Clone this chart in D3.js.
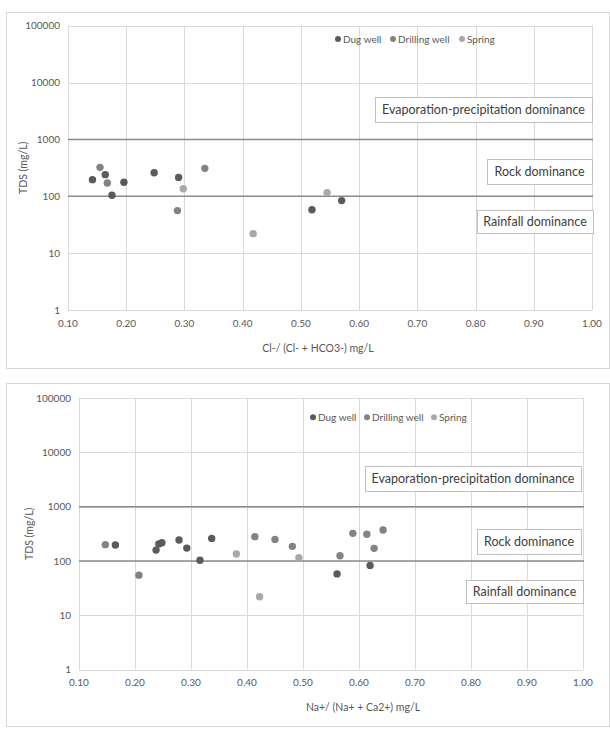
<!DOCTYPE html>
<html>
<head>
<meta charset="utf-8">
<script src="https://cdn.jsdelivr.net/npm/d3@7"></script>
<style>
  body { margin: 0; background: #fff; }
  svg text { font-family: Lato, "Open Sans", sans-serif; fill: #595959; }
</style>
</head>
<body>
<div id="chart"></div>
<script>
// Tick values
const xTicks = [0.1, 0.2, 0.3, 0.4, 0.5, 0.6, 0.7, 0.8, 0.9, 1.0];
const yTicks = [1, 10, 100, 1000, 10000, 100000];
const seriesNames = ["Dug well", "Drilling well", "Spring"];
const zoneNames = ["Evaporation-precipitation dominance", "Rock dominance", "Rainfall dominance"];
const zoneLines = [1000, 100];

// Chart 1: Cl-/(Cl- + HCO3-) vs TDS
const clDug = [[0.142, 196], [0.164, 240], [0.1755, 104], [0.196, 176], [0.248, 260], [0.290, 215], [0.519, 58], [0.570, 84]];
const clDrill = [[0.155, 323], [0.1675, 171], [0.288, 56], [0.335, 310]];
const clSpring = [[0.298, 136], [0.418, 22], [0.545, 116]];

// Chart 2: Na+/(Na+ + Ca2+) vs TDS
const naDug = [[0.165, 197], [0.2376, 159], [0.2425, 206], [0.248, 217], [0.2786, 244], [0.2925, 173], [0.316, 103], [0.337, 261], [0.5608, 58], [0.6198, 83]];
const naDrill = [[0.147, 200], [0.207, 55], [0.414, 281], [0.450, 250], [0.481, 186], [0.566, 125], [0.589, 323], [0.614, 310], [0.627, 171], [0.643, 372]];
const naSpring = [[0.381, 135], [0.4225, 22], [0.4926, 115]];

const colors = ["#5b5b5b", "#838383", "#a9a9a9"];

const svg = d3.select("#chart").append("svg")
    .attr("width", 610)
    .attr("height", 731);

function drawChart(opt) {
    // outer frame
    svg.append("rect")
        .attr("x", opt.frame[0] + 0.5).attr("y", opt.frame[1] + 0.5)
        .attr("width", opt.frame[2]).attr("height", opt.frame[3])
        .attr("fill", "#fff").attr("stroke", "#d9d9d9");

    const x = d3.scaleLinear().domain([0.1, 1.0]).range([opt.left, opt.right]);
    const y = d3.scaleLog().domain([1, 100000]).range([opt.bottom, opt.top]);

    const g = svg.append("g");

    // gridlines
    g.selectAll(".vg").data(xTicks).join("line")
        .attr("x1", d => Math.round(x(d)) + 0.5).attr("x2", d => Math.round(x(d)) + 0.5)
        .attr("y1", opt.top).attr("y2", opt.bottom)
        .attr("stroke", "#d9d9d9").attr("stroke-width", 1);
    g.selectAll(".hg").data(yTicks).join("line")
        .attr("x1", opt.left).attr("x2", opt.right)
        .attr("y1", d => Math.round(y(d)) + 0.5).attr("y2", d => Math.round(y(d)) + 0.5)
        .attr("stroke", "#d9d9d9").attr("stroke-width", 1);

    // tick labels
    g.selectAll(".xl").data(xTicks).join("text")
        .attr("x", d => x(d)).attr("y", opt.bottom + 13)
        .attr("dy", "0.35em")
        .attr("text-anchor", "middle")
        .style("font-size", "10px")
        .text(d => d3.format(".2f")(d));
    g.selectAll(".yl").data(yTicks).join("text")
        .attr("x", opt.left - 8).attr("y", d => y(d))
        .attr("dy", "0.35em")
        .attr("text-anchor", "end")
        .style("font-size", "10px")
        .text(d => d);

    // zone boundary lines
    g.selectAll(".zl").data(zoneLines).join("line")
        .attr("x1", opt.left).attr("x2", opt.right + 1)
        .attr("y1", d => y(d)).attr("y2", d => y(d))
        .attr("stroke", "#8c8c8c").attr("stroke-width", 1.5);

    // zone boxes
    zoneNames.forEach(function(name, i) {
        const b = opt.boxes[i];
        svg.append("rect")
            .attr("x", b[0] + 0.5).attr("y", b[1] + 0.5)
            .attr("width", b[2]).attr("height", b[3])
            .attr("fill", "#fff").attr("stroke", "#c0c0c0");
        svg.append("text")
            .attr("x", b[0] + b[2] / 2).attr("y", b[1] + b[3] / 2 + 0.5)
            .attr("dy", "0.35em")
            .attr("text-anchor", "middle")
            .style("font-size", "12.5px")
            .style("fill", "#404040")
            .text(name);
    });

    // points
    opt.series.forEach(function(data, i) {
        g.selectAll(".p" + i).data(data).join("circle")
            .attr("cx", d => x(d[0])).attr("cy", d => y(d[1]))
            .attr("r", 3.7)
            .attr("fill", colors[i]);
    });

    // legend
    seriesNames.forEach(function(name, i) {
        svg.append("circle")
            .attr("cx", opt.legendX[i]).attr("cy", opt.legendY)
            .attr("r", 3).attr("fill", colors[i]);
        svg.append("text")
            .attr("x", opt.legendX[i] + 5).attr("y", opt.legendY)
            .attr("dy", "0.35em")
            .style("font-size", "10px")
            .text(name);
    });

    // axis titles
    svg.append("text")
        .attr("x", opt.xTitleX).attr("y", opt.bottom + 38)
        .attr("dy", "0.35em")
        .attr("text-anchor", "middle")
        .style("font-size", "10.5px")
        .text(opt.xTitle);
    svg.append("text")
        .attr("transform", `translate(${opt.yTitleX},${(opt.top + opt.bottom) / 2}) rotate(-90)`)
        .attr("dy", "0.35em")
        .attr("text-anchor", "middle")
        .style("font-size", "10.5px")
        .text("TDS (mg/L)");
}

drawChart({
    frame: [6, 12, 603, 356],
    left: 68, right: 592, top: 25.7, bottom: 310,
    series: [clDug, clDrill, clSpring],
    boxes: [[375, 97, 217, 25], [487, 159, 105, 25], [477, 210, 116, 23]],
    legendX: [338, 393, 462], legendY: 39,
    xTitle: "Cl-/ (Cl- + HCO3-) mg/L", xTitleX: 318,
    yTitleX: 23
});

drawChart({
    frame: [6, 383, 603, 343],
    left: 79, right: 583, top: 398, bottom: 669.7,
    series: [naDug, naDrill, naSpring],
    boxes: [[365, 466, 216, 25], [477, 529, 104, 25], [466, 580, 117, 23]],
    legendX: [313, 367, 434], legendY: 417.3,
    xTitle: "Na+/ (Na+ + Ca2+) mg/L", xTitleX: 363,
    yTitleX: 29
});
</script>
</body>
</html>
